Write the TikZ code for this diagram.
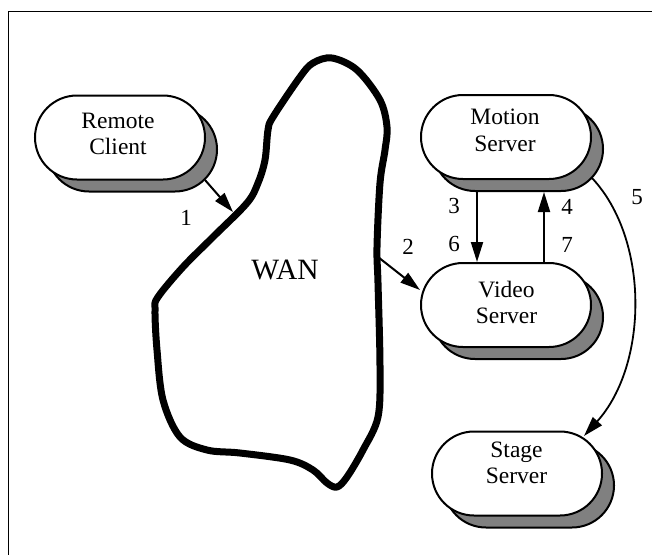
\documentclass[tikz,border=0pt]{standalone}
\usepackage{fontspec}
\setmainfont{Liberation Serif}
\usetikzlibrary{shapes.misc,shadows,arrows.meta,calc}
\definecolor{shadowgray}{RGB}{128,128,128}
\begin{document}
\begin{tikzpicture}[x=1pt,y=-1pt,
  pill/.style={rounded rectangle, draw=black, line width=2pt, fill=white,
    minimum width=170pt, minimum height=84pt, inner sep=0pt,
    general shadow={fill=shadowgray, draw=black, line width=2pt,
      shadow xshift=12pt, shadow yshift=-12pt}},
  pilltext/.style={align=center, font=\fontsize{23.5}{26.5}\selectfont, inner sep=0pt},
  num/.style={font=\fontsize{23}{26}\selectfont, inner sep=0pt},
  arr/.style={line width=2pt, -{Triangle[length=20pt,width=12pt]}},
  blob/.style={line width=7pt, line join=round}
]
\useasboundingbox (0,0) rectangle (652,554);
% frame
\draw[line width=1.3pt] (8.5,560) -- (8.5,11.5) -- (660,11.5);

% WAN cloud
\draw[blob] plot[smooth cycle, tension=0.55] coordinates {
 (332,58) (357,70) (380,100) (387,127) (385,150) (380,183) (377,247)
 (378,283) (380,367) (378,417) (363,450) (347,477) (337,487) (327,483)
 (313,470) (290,460) (240,453) (207,450) (180,437) (163,400) (157,350)
 (155,310) (158,297) (183,267) (213,237) (247,203) (258,183) (265,160)
 (268,130) (273,117) (300,77) (313,63)};
\node[font=\fontsize{29.5}{32}\selectfont, inner sep=0pt] (wan) at (285,270) {WAN};
\coordinate (wanin) at (233,212);
\coordinate (wanout) at (378,257);

% pills
\node[pill] (rc) at (120,137.5) {};
\node[pill] (ms) at (506,137) {};
\node[pill] (vs) at (506,305) {};
\node[pill] (ss) at (517,473.5) {};

\node[pilltext] (rct) at (118,134) {Remote\\Client};
\node[pilltext] (mst) at (505,130.5) {Motion\\Server};
\node[pilltext] (vst) at (506.5,302.5) {Video\\Server};
\node[pilltext] (sst) at (516.5,463) {Stage\\Server};

% connectors
\coordinate (rcs) at ($(rc.center)+(85,42.5)$);
\draw[arr] (rcs) -- (wanin);
\draw[arr] (wanout) -- ($(vs.west)+(0,-15)$);
\draw[arr] ($(ms.south)+(-29,12)$) -- ($(vs.north)+(-29,0)$);
\draw[arr] ($(vs.north)+(38,0)$) -- ($(ms.south)+(38,12)$);
\coordinate (mss) at ($(ms.center)+(86,41)$);
\draw[line width=1.8pt, -{Triangle[length=20pt,width=12pt]}]
  (mss) .. controls (650,240) and (648,365) .. ($(ss.center)+(67,-37.5)$);

% labels
\node[num] (l1) at (186,218) {1};
\node[num] (l2) at (408,247) {2};
\node[num] (l3) at (454,206) {3};
\node[num] (l6) at (454,244) {6};
\node[num] (l4) at (567,207) {4};
\node[num] (l7) at (567,245) {7};
\node[num] (l5) at (637,197) {5};
\end{tikzpicture}
\end{document}
